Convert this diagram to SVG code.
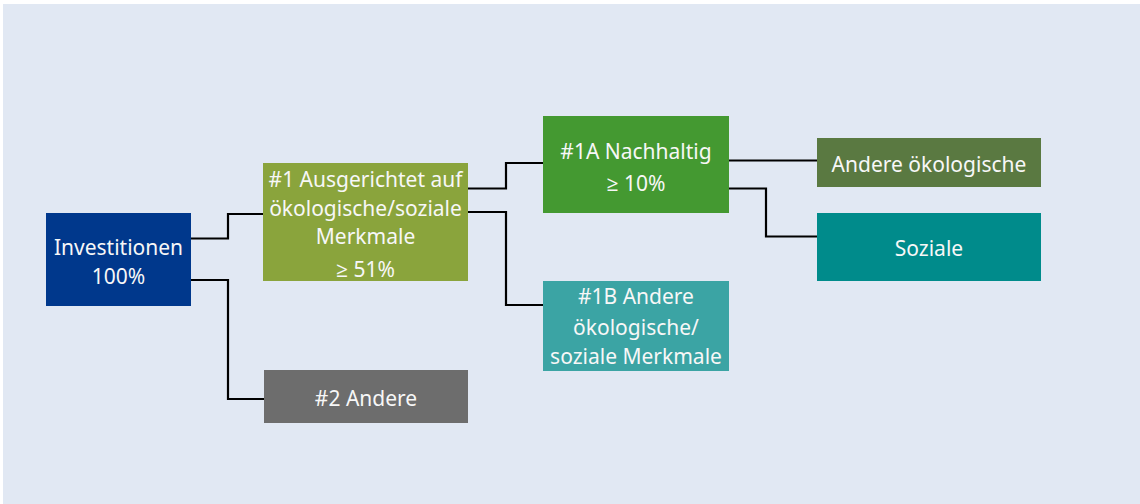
<svg xmlns="http://www.w3.org/2000/svg" width="1140" height="504" viewBox="0 0 1140 504">
<style>
.t{font-family:"Noto Sans","Open Sans","DejaVu Sans",sans-serif;font-size:21px;fill:#f7f7f7;text-anchor:middle}
.c{fill:none;stroke:#000;stroke-width:2.2}
</style>
<rect x="0" y="0" width="1140" height="504" fill="#ffffff"/>
<rect x="3" y="4" width="1137" height="500" fill="#e1e8f3"/>
<g id="connectors">
<polyline class="c" points="191,238.5 228,238.5 228,214 264,214"/>
<polyline class="c" points="191,280 228,280 228,399 264,399"/>
<polyline class="c" points="468,188.5 506,188.5 506,163 544,163"/>
<polyline class="c" points="468,212 506,212 506,305 544,305"/>
<polyline class="c" points="729,160.5 817,160.5"/>
<polyline class="c" points="729,188.5 766,188.5 766,236.5 817,236.5"/>
</g>
<g id="investitionen">
<rect x="46" y="213" width="145" height="93" fill="#00388c"/>
<text class="t" x="118.5" y="255">Investitionen</text>
<text class="t" x="118.5" y="284">100%</text>
</g>
<g id="n1">
<rect x="263" y="163" width="205" height="118" fill="#8aa43c"/>
<text class="t" x="365.5" y="187">#1 Ausgerichtet auf</text>
<text class="t" x="365.5" y="216">ökologische/soziale</text>
<text class="t" x="365.5" y="244">Merkmale</text>
<text class="t" x="365.5" y="277">≥ 51%</text>
</g>
<g id="n2">
<rect x="264" y="370" width="204" height="53" fill="#6d6d6d"/>
<text class="t" x="366" y="406">#2 Andere</text>
</g>
<g id="n1a">
<rect x="543" y="116" width="186" height="97" fill="#449931"/>
<text class="t" x="636" y="159">#1A Nachhaltig</text>
<text class="t" x="636" y="191">≥ 10%</text>
</g>
<g id="n1b">
<rect x="543" y="281" width="186" height="90" fill="#3ba4a4"/>
<text class="t" x="636" y="304">#1B Andere</text>
<text class="t" x="636" y="335">ökologische/</text>
<text class="t" x="636" y="364">soziale Merkmale</text>
</g>
<g id="andere-oekologische">
<rect x="817" y="138" width="224" height="49" fill="#5a7941"/>
<text class="t" x="929" y="172">Andere ökologische</text>
</g>
<g id="soziale">
<rect x="817" y="213" width="224" height="68" fill="#008b8b"/>
<text class="t" x="929" y="256">Soziale</text>
</g>
</svg>
